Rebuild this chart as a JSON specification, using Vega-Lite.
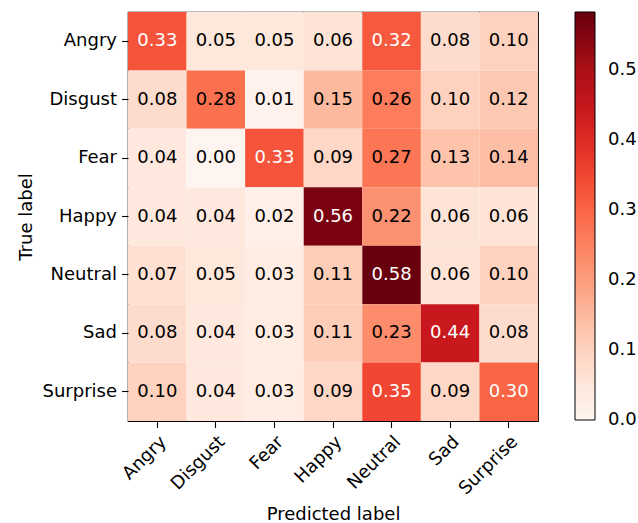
{
  "$schema": "https://vega.github.io/schema/vega-lite/v6.json",
  "width": 410,
  "height": 409,
  "autosize": "none",
  "padding": {"left": 128, "top": 12, "right": 100, "bottom": 102},
  "background": "white",
  "config": {
    "font": "DejaVu Sans",
    "view": {"stroke": "black", "strokeWidth": 1.2},
    "axis": {"labelFont": "DejaVu Sans", "titleFont": "DejaVu Sans", "labelFontSize": 18, "titleFontSize": 18, "titleFontWeight": "normal", "labelColor": "black", "titleColor": "black", "tickColor": "black", "tickSize": 6.5, "tickWidth": 1.1, "labelPadding": 5, "domain": false, "grid": false},
    "legend": {"labelFont": "DejaVu Sans", "labelFontSize": 18, "labelColor": "black"}
  },
  "data": {"values": [
    {"t": "Angry", "p": "Angry", "v": 0.33}, {"t": "Angry", "p": "Disgust", "v": 0.05}, {"t": "Angry", "p": "Fear", "v": 0.05}, {"t": "Angry", "p": "Happy", "v": 0.06}, {"t": "Angry", "p": "Neutral", "v": 0.32}, {"t": "Angry", "p": "Sad", "v": 0.08}, {"t": "Angry", "p": "Surprise", "v": 0.10},
    {"t": "Disgust", "p": "Angry", "v": 0.08}, {"t": "Disgust", "p": "Disgust", "v": 0.28}, {"t": "Disgust", "p": "Fear", "v": 0.01}, {"t": "Disgust", "p": "Happy", "v": 0.15}, {"t": "Disgust", "p": "Neutral", "v": 0.26}, {"t": "Disgust", "p": "Sad", "v": 0.10}, {"t": "Disgust", "p": "Surprise", "v": 0.12},
    {"t": "Fear", "p": "Angry", "v": 0.04}, {"t": "Fear", "p": "Disgust", "v": 0.00}, {"t": "Fear", "p": "Fear", "v": 0.33}, {"t": "Fear", "p": "Happy", "v": 0.09}, {"t": "Fear", "p": "Neutral", "v": 0.27}, {"t": "Fear", "p": "Sad", "v": 0.13}, {"t": "Fear", "p": "Surprise", "v": 0.14},
    {"t": "Happy", "p": "Angry", "v": 0.04}, {"t": "Happy", "p": "Disgust", "v": 0.04}, {"t": "Happy", "p": "Fear", "v": 0.02}, {"t": "Happy", "p": "Happy", "v": 0.56}, {"t": "Happy", "p": "Neutral", "v": 0.22}, {"t": "Happy", "p": "Sad", "v": 0.06}, {"t": "Happy", "p": "Surprise", "v": 0.06},
    {"t": "Neutral", "p": "Angry", "v": 0.07}, {"t": "Neutral", "p": "Disgust", "v": 0.05}, {"t": "Neutral", "p": "Fear", "v": 0.03}, {"t": "Neutral", "p": "Happy", "v": 0.11}, {"t": "Neutral", "p": "Neutral", "v": 0.58}, {"t": "Neutral", "p": "Sad", "v": 0.06}, {"t": "Neutral", "p": "Surprise", "v": 0.10},
    {"t": "Sad", "p": "Angry", "v": 0.08}, {"t": "Sad", "p": "Disgust", "v": 0.04}, {"t": "Sad", "p": "Fear", "v": 0.03}, {"t": "Sad", "p": "Happy", "v": 0.11}, {"t": "Sad", "p": "Neutral", "v": 0.23}, {"t": "Sad", "p": "Sad", "v": 0.44}, {"t": "Sad", "p": "Surprise", "v": 0.08},
    {"t": "Surprise", "p": "Angry", "v": 0.10}, {"t": "Surprise", "p": "Disgust", "v": 0.04}, {"t": "Surprise", "p": "Fear", "v": 0.03}, {"t": "Surprise", "p": "Happy", "v": 0.09}, {"t": "Surprise", "p": "Neutral", "v": 0.35}, {"t": "Surprise", "p": "Sad", "v": 0.09}, {"t": "Surprise", "p": "Surprise", "v": 0.30}
  ]},
  "encoding": {
    "x": {"field": "p", "type": "nominal", "sort": ["Angry", "Disgust", "Fear", "Happy", "Neutral", "Sad", "Surprise"], "scale": {"paddingInner": 0, "paddingOuter": 0}, "axis": {"title": "Predicted label", "labelAngle": -45, "labelAlign": "right", "labelBaseline": "top", "titlePadding": 8}},
    "y": {"field": "t", "type": "nominal", "sort": ["Angry", "Disgust", "Fear", "Happy", "Neutral", "Sad", "Surprise"], "scale": {"paddingInner": 0, "paddingOuter": 0}, "axis": {"title": "True label", "titlePadding": 6}}
  },
  "layer": [
    {
      "mark": {"type": "rect"},
      "encoding": {
        "color": {
          "field": "v", "type": "quantitative",
          "scale": {"domain": [0, 0.0728, 0.1456, 0.2184, 0.2912, 0.364, 0.4368, 0.5096, 0.5825], "range": ["#fff5f0", "#fee0d2", "#fcbba1", "#fc9272", "#fb6a4a", "#ef3b2c", "#cb181d", "#a50f15", "#67000d"]},
          "legend": {"title": null, "orient": "right", "offset": 37, "gradientLength": 408, "gradientThickness": 20, "gradientStrokeColor": "black", "gradientStrokeWidth": 1, "values": [0, 0.1, 0.2, 0.3, 0.4, 0.5], "format": ".1f", "labelOffset": 13, "padding": 0, "encode": {"labels": {"update": {"baseline": {"value": "middle"}}}}}
        }
      }
    },
    {
      "mark": {"type": "text", "fontSize": 18, "font": "DejaVu Sans"},
      "encoding": {
        "text": {"field": "v", "type": "quantitative", "format": ".2f"},
        "color": {"condition": {"test": "datum.v > 0.29", "value": "white"}, "value": "black"}
      }
    }
  ]
}
